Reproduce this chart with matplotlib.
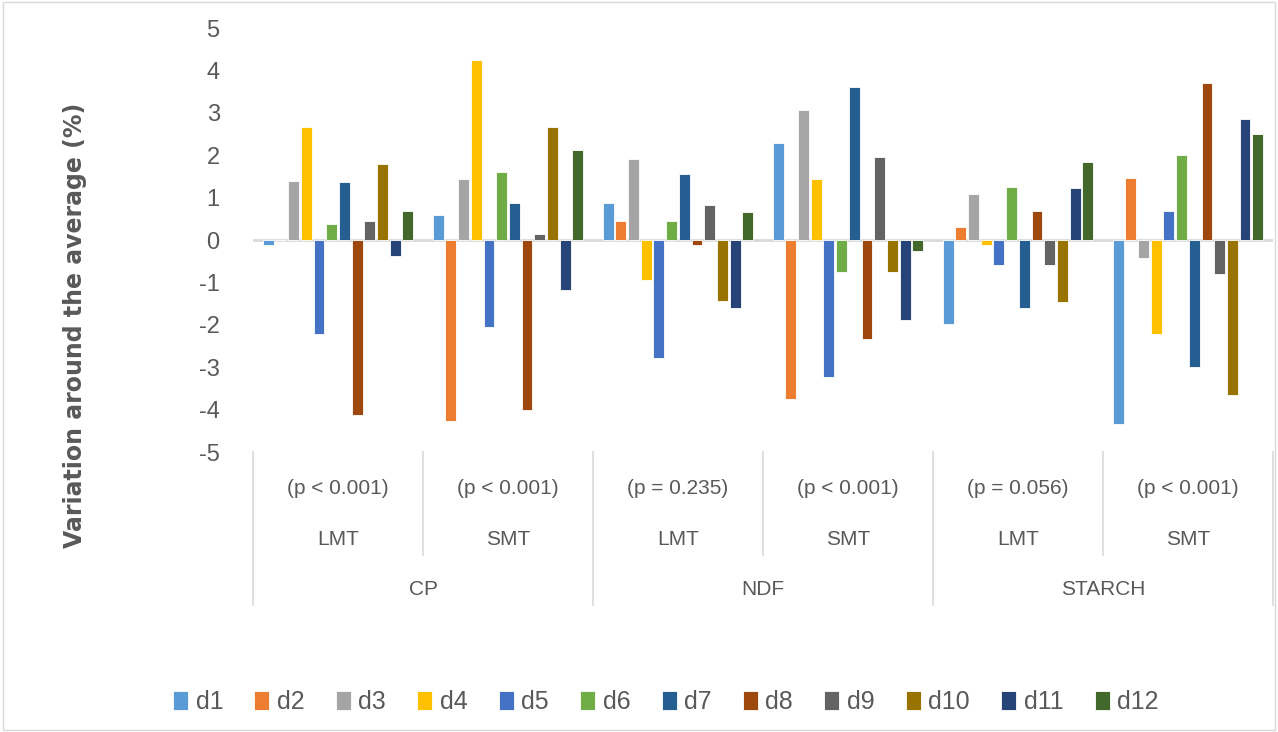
import matplotlib.pyplot as plt
import numpy as np
from matplotlib.patches import Rectangle

# ---------------------------------------------------------------------------
# Data
# ---------------------------------------------------------------------------
nutrients = ["CP", "NDF", "STARCH"]
methods = ["LMT", "SMT", "LMT", "SMT", "LMT", "SMT"]
p_labels = ["(p < 0.001)", "(p < 0.001)", "(p = 0.235)",
            "(p < 0.001)", "(p = 0.056)", "(p < 0.001)"]
series = ["d1", "d2", "d3", "d4", "d5", "d6", "d7", "d8", "d9", "d10", "d11", "d12"]

# one list per series, one value per sub-group (CP-LMT, CP-SMT, NDF-LMT, NDF-SMT, ST-LMT, ST-SMT)
d1 = [-0.12, 0.59, 0.87, 2.30, -1.98, -4.33]
d2 = [0.0, -4.28, 0.46, -3.76, 0.31, 1.46]
d3 = [1.40, 1.43, 1.92, 3.07, 1.08, -0.43]
d4 = [2.67, 4.25, -0.94, 1.43, -0.12, -2.22]
d5 = [-2.22, -2.06, -2.79, -3.22, -0.59, 0.68]
d6 = [0.38, 1.61, 0.46, -0.76, 1.26, 2.01]
d7 = [1.37, 0.87, 1.55, 3.61, -1.61, -3.00]
d8 = [-4.13, -4.00, -0.12, -2.34, 0.68, 3.70]
d9 = [0.44, 0.14, 0.83, 1.95, -0.59, -0.80]
d10 = [1.80, 2.67, -1.43, -0.76, -1.46, -3.66]
d11 = [-0.38, -1.19, -1.61, -1.89, 1.22, 2.85]
d12 = [0.68, 2.13, 0.65, -0.25, 1.83, 2.49]
values = [d1, d2, d3, d4, d5, d6, d7, d8, d9, d10, d11, d12]

colors = ["#5B9BD5", "#ED7D31", "#A5A5A5", "#FFC000", "#4472C4", "#70AD47",
          "#255E91", "#9E480E", "#636363", "#997300", "#264478", "#43682B"]

TEXT = "#595959"
GRID = "#D9D9D9"

plt.rcParams["font.family"] = ["Liberation Sans Narrow", "Liberation Sans", "DejaVu Sans"]
plt.rcParams["axes.unicode_minus"] = False

fig = plt.figure(figsize=(12.78, 7.32), dpi=100)
ax = fig.add_axes([0.198, 0.3825, 0.798, 0.5792])

x = np.arange(len(methods))
slot = 0.0747
bw = 0.064
for i, (name, vals, col) in enumerate(zip(series, values, colors)):
    off = (i - 5.5) * slot
    ax.bar(x + off, vals, width=bw, color=col, edgecolor="white",
           linewidth=0.6, label=name, zorder=3)

ax.axhline(0, color=GRID, linewidth=2, zorder=2)
ax.set_xlim(-0.5, 5.5)
ax.set_ylim(-5, 5)
ax.set_yticks(range(-5, 6))
ax.tick_params(axis="y", length=0, labelsize=17, labelcolor=TEXT, pad=24)
ax.set_xticks([])
for s in ax.spines.values():
    s.set_visible(False)

# category labels below the axis
trans = ax.get_xaxis_transform()
for i in range(6):
    ax.text(i, -0.087, p_labels[i], transform=trans, ha="center", va="center",
            fontsize=15, color=TEXT)
    ax.text(i, -0.207, methods[i], transform=trans, ha="center", va="center",
            fontsize=15, color=TEXT)
for j, nut in enumerate(nutrients):
    ax.text(2 * j + 0.5, -0.325, nut, transform=trans, ha="center", va="center",
            fontsize=15, color=TEXT)

# separators
for k in range(7):
    xs = k - 0.5
    bottom = -0.243 if k % 2 == 1 else -0.361
    ax.plot([xs, xs], [0, bottom], transform=trans, color=GRID,
            linewidth=1.2, clip_on=False)

fig.text(0.059, 0.556, "Variation around the average (%)", rotation=90,
         ha="center", va="center", fontsize=17, fontweight="bold",
         color=TEXT, family="DejaVu Sans")

fig.legend(loc="center", bbox_to_anchor=(0.521, 0.041), ncol=12, frameon=False,
           fontsize=18, handlelength=0.6, handleheight=0.8, handletextpad=0.3,
           columnspacing=1.25, labelcolor=TEXT)

# outer chart border
fig.patches.append(Rectangle((0.002, 0.003), 0.996, 0.994, transform=fig.transFigure,
                             fill=False, edgecolor=GRID, linewidth=1))

fig.savefig("out.png", dpi=100)
